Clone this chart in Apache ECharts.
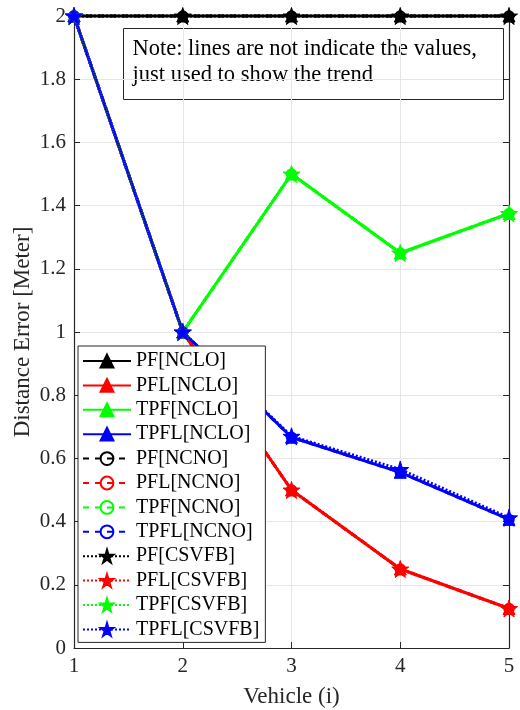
<!DOCTYPE html>
<html><head><meta charset="utf-8">
<script src="https://cdn.jsdelivr.net/npm/echarts@6/dist/echarts.min.js"></script>
<style>html,body{margin:0;padding:0;background:#fff}#c{width:520px;height:710px}</style>
</head><body><div id="c"></div>
<script>
const vehicles = [1, 2, 3, 4, 5];
const pfNCLO   = [2, 2, 2, 2, 2];
const pflNCLO  = [2, 1, 0.5, 0.25, 0.125];
const tpfNCLO  = [2, 1, 1.5, 1.25, 1.375];
const tpflNCLO = [2, 1, 0.667, 0.556, 0.407];
const pfNCNO   = [2, 2, 2, 2, 2];
const pflNCNO  = [2, 1, 0.5, 0.25, 0.125];
const tpfNCNO  = [2, 1, 1.5, 1.25, 1.375];
const tpflNCNO = [2, 1, 0.667, 0.556, 0.407];
const pfCSVFB   = [2, 2, 2, 2, 2];
const pflCSVFB  = [2, 1, 0.5, 0.25, 0.125];
const tpfCSVFB  = [2, 1, 1.5, 1.25, 1.375];
const tpflCSVFB = [2, 1, 0.67, 0.565, 0.412];
const yTicks = [0, 0.2, 0.4, 0.6, 0.8, 1, 1.2, 1.4, 1.6, 1.8, 2];

const STAR = 'path://M50,0 L61,35 L98,35 L68,57 L79,91 L50,70 L21,91 L32,57 L2,35 L39,35 Z';
const FONT = '"Liberation Serif", "Times New Roman", serif';
const colors = {PF:'#000000', PFL:'#ff0000', TPF:'#00ff00', TPFL:'#0000ff'};

function pairs(arr){ return arr.map((v,i)=>[vehicles[i], v]); }
function mk(name, data, color, group){
  let symbol, size, ltype, item;
  if (group==='NCLO'){ symbol='triangle'; size=12; ltype='solid'; item={color, borderColor:color, borderWidth:1}; }
  else if (group==='NCNO'){ symbol='circle'; size=9; ltype=[6,6]; item={color:'rgba(0,0,0,0)', borderColor:color, borderWidth:2.5}; }
  else { symbol=STAR; size=17; ltype=[2,2]; item={color, borderColor:color, borderWidth:1}; }
  return {
    name, type:'line', data:pairs(data), symbol, symbolSize:size, clip:false,
    showAllSymbol:true,
    lineStyle:{color, width:3, type:ltype},
    itemStyle:item,
    emphasis:{disabled:true}, animation:false
  };
}
const series = [
  mk('PF[NCLO]', pfNCLO, colors.PF, 'NCLO'),
  mk('PFL[NCLO]', pflNCLO, colors.PFL, 'NCLO'),
  mk('TPF[NCLO]', tpfNCLO, colors.TPF, 'NCLO'),
  mk('TPFL[NCLO]', tpflNCLO, colors.TPFL, 'NCLO'),
  mk('PF[NCNO]', pfNCNO, colors.PF, 'NCNO'),
  mk('PFL[NCNO]', pflNCNO, colors.PFL, 'NCNO'),
  mk('TPF[NCNO]', tpfNCNO, colors.TPF, 'NCNO'),
  mk('TPFL[NCNO]', tpflNCNO, colors.TPFL, 'NCNO'),
  mk('PF[CSVFB]', pfCSVFB, colors.PF, 'CSVFB'),
  mk('PFL[CSVFB]', pflCSVFB, colors.PFL, 'CSVFB'),
  mk('TPF[CSVFB]', tpfCSVFB, colors.TPF, 'CSVFB'),
  mk('TPFL[CSVFB]', tpflCSVFB, colors.TPFL, 'CSVFB')
];
const axisCol = '#262626';
const chart = echarts.init(document.getElementById('c'), null, {renderer:'canvas'});
chart.setOption({
  animation:false,
  backgroundColor:'#fff',
  textStyle:{fontFamily:FONT},
  grid:{left:74, right:11, top:16, bottom:62, containLabel:false, outerBoundsMode:'none'},
  xAxis:[{
    type:'value', min:1, max:5, interval:1, position:'bottom',
    name:'Vehicle (i)', nameLocation:'middle', nameGap:37,
    nameTextStyle:{fontFamily:FONT, fontSize:23, color:axisCol},
    axisLine:{show:true, onZero:false, lineStyle:{color:axisCol, width:1.2}},
    axisTick:{show:true, inside:true, length:6, lineStyle:{color:axisCol}},
    axisLabel:{fontFamily:FONT, fontSize:21, color:axisCol, margin:8},
    splitLine:{show:true, lineStyle:{color:'#e6e6e6', width:1}}
  },{
    type:'value', min:1, max:5, interval:1, position:'top',
    axisLine:{show:true, onZero:false, lineStyle:{color:axisCol, width:1.2}},
    axisTick:{show:true, inside:true, length:6, lineStyle:{color:axisCol}},
    axisLabel:{show:false}, splitLine:{show:false}
  }],
  yAxis:[{
    type:'value', min:0, max:2, interval:0.2, position:'left',
    name:'Distance Error [Meter]', nameLocation:'middle', nameGap:40, nameMoveOverlap:false,
    nameTextStyle:{fontFamily:FONT, fontSize:23, color:axisCol},
    axisLine:{show:true, onZero:false, lineStyle:{color:axisCol, width:1.2}},
    axisTick:{show:true, inside:true, length:6, lineStyle:{color:axisCol}},
    axisLabel:{fontFamily:FONT, fontSize:21, color:axisCol, margin:8,
      formatter:v=>{ const t=yTicks.find(x=>Math.abs(x-v)<1e-9); return t===undefined?'':String(t); }},
    splitLine:{show:true, lineStyle:{color:'#e6e6e6', width:1}}
  },{
    type:'value', min:0, max:2, interval:0.2, position:'right',
    axisLine:{show:true, onZero:false, lineStyle:{color:axisCol, width:1.2}},
    axisTick:{show:true, inside:true, length:6, lineStyle:{color:axisCol}},
    axisLabel:{show:false}, splitLine:{show:false}
  }],
  legend:{
    orient:'vertical', left:78, top:346, z:20,
    backgroundColor:'#fff', borderColor:'#262626', borderWidth:1,
    padding:[5,6,3,4], itemGap:4.4, itemWidth:48, itemHeight:16,
    textStyle:{fontFamily:FONT, fontSize:20, color:'#000', lineHeight:20},
    selectedMode:false,
    data:series.map(s=>s.name)
  },
  graphic:[{
    type:'group', left:123, top:28, z:30,
    children:[
      {type:'rect', shape:{x:0, y:0, width:380, height:71},
       style:{fill:'#fff', stroke:'#262626', lineWidth:1}},
      {type:'text', x:9, y:8, style:{text:'Note: lines are not indicate the values,\njust used to show the trend',
        font:'22.5px "Liberation Serif"', fill:'#000', lineHeight:26}}
    ]
  }],
  series
});
</script></body></html>
